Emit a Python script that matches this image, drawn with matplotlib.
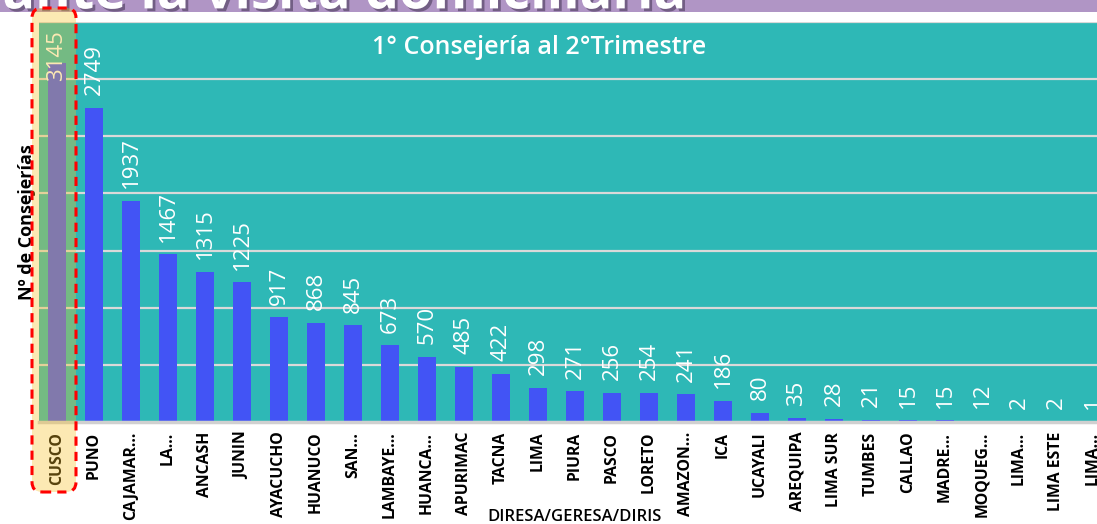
import matplotlib.pyplot as plt
import numpy as np
from matplotlib.patches import FancyBboxPatch, Rectangle
import matplotlib.patheffects as pe

# Data
regions = ["CUSCO", "PUNO", "CAJAMAR...", "LA...", "ANCASH", "JUNIN", "AYACUCHO",
           "HUANUCO", "SAN...", "LAMBAYE...", "HUANCA...", "APURIMAC", "TACNA",
           "LIMA", "PIURA", "PASCO", "LORETO", "AMAZON...", "ICA", "UCAYALI",
           "AREQUIPA", "LIMA SUR", "TUMBES", "CALLAO", "MADRE...", "MOQUEG...",
           "LIMA...", "LIMA ESTE", "LIMA..."]
consejerias = [3145, 2749, 1937, 1467, 1315, 1225, 917, 868, 845, 673, 570, 485,
               422, 298, 271, 256, 254, 241, 186, 80, 35, 28, 21, 15, 15, 12, 2, 2, 1]
highlight = "CUSCO"

FONT = ['Open Sans', 'DejaVu Sans']
W, H = 1097, 524
fig = plt.figure(figsize=(W / 100, H / 100), dpi=100)
fig.patch.set_facecolor('white')

# purple slide banner with the clipped heading
bax = fig.add_axes([0, 1 - 12 / H, 1, 12 / H])
bax.set_xlim(0, W)
bax.set_ylim(0, 1)
bax.axis('off')
bax.add_patch(Rectangle((0, 0), W, 1, color='#b095c5', zorder=0))
bax.text(685, 0.3, "Consejería durante la visita domiciliaria", ha='right', va='baseline',
         fontsize=39, fontweight='bold', color='white', family=FONT, clip_on=True,
         path_effects=[pe.SimplePatchShadow(offset=(2, -2), shadow_rgbFace='#4a3a5a', alpha=0.6),
                       pe.Normal()])

# main chart
ax = fig.add_axes([38.5 / W, (H - 422) / H, 1073 / W, 400 / H])
ax.set_facecolor('#2eb8b6')
x = np.arange(len(regions))
bars = ax.bar(x, consejerias, 0.5, color='#4254f5', zorder=2)

ax.set_xlim(-0.5, len(regions) - 0.5)
ax.set_ylim(0, 3500)
ax.set_yticks(np.arange(500, 3501, 500))
ax.yaxis.grid(True, color='#d9d9d9', linewidth=1.6, zorder=1)
ax.set_axisbelow(True)
ax.tick_params(axis='y', length=0, labelleft=False)
ax.tick_params(axis='x', length=0, pad=7)
for s in ['left', 'right', 'top']:
    ax.spines[s].set_visible(False)
ax.spines['bottom'].set_color('#d0d0d0')
ax.spines['bottom'].set_linewidth(2.5)

ax.set_xticks(x, regions, rotation=90, fontsize=11.3, fontweight='bold', family=FONT)

# value labels above the bars
labels = ['' if r == highlight else str(v) for r, v in zip(regions, consejerias)]
ax.bar_label(bars, labels=labels, rotation=90, padding=9, color='white', fontsize=16,
             family=FONT)
hi = regions.index(highlight)
ax.annotate(str(consejerias[hi]), xy=(hi, 1), xycoords=ax.get_xaxis_transform(),
            xytext=(0, -6), textcoords='offset points', rotation=90, ha='center', va='top',
            color='white', fontsize=16, family=FONT, zorder=3)

ax.text(0.467, 0.937, "1° Consejería al 2°Trimestre", transform=ax.transAxes, ha='center',
        va='center', color='white', fontsize=18, fontweight='semibold', family=FONT)
ax.set_ylabel("Nº de Consejerías", fontsize=13, fontweight='bold', family=FONT)
ax.yaxis.set_label_coords(-2 / 1073, 0.5)
ax.set_xlabel("DIRESA/GERESA/DIRIS", fontsize=12, fontweight='semibold', family=FONT)
ax.xaxis.set_label_coords(0.5, -0.218)

# yellow highlight box with red dashed border around CUSCO
box_kw = dict(boxstyle='round,pad=0,rounding_size=0.1', transform=fig.dpi_scale_trans)
fig.add_artist(FancyBboxPatch((0.32, 0.32), 0.44, 4.84, facecolor='#f9c026', alpha=0.35,
                              edgecolor='none', zorder=5, **box_kw))
fig.add_artist(FancyBboxPatch((0.32, 0.32), 0.44, 4.84, facecolor='none', edgecolor='#ff0000',
                              linewidth=2.2, linestyle=(0, (3, 2)), zorder=6, **box_kw))

fig.savefig('out.png', dpi=100)
